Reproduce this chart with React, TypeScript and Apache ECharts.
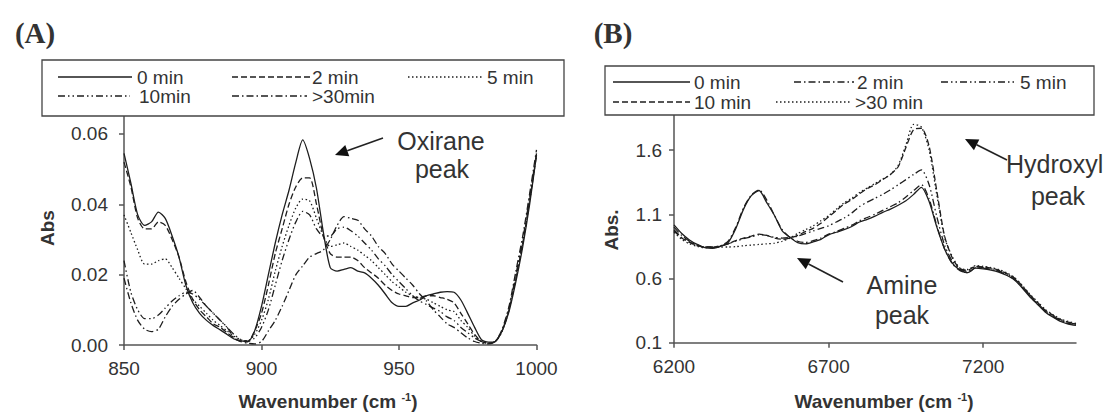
import React, { useEffect, useRef } from "react";
import * as echarts from "echarts";

// ---------- Panel A data (Wavenumber 850-1000 cm-1) ----------
const A_WAVENUMBER = [
  850, 852.5, 855, 857.5, 860, 862.5, 865, 867.5, 870, 872.5,
  875, 877.5, 880, 882.5, 885, 887.5, 890, 892.5, 895, 897.5,
  900, 902.5, 905, 907.5, 910, 912.5, 915, 917.5, 920, 922.5,
  925, 927.5, 930, 932.5, 935, 937.5, 940, 942.5, 945, 947.5,
  950, 952.5, 955, 957.5, 960, 962.5, 965, 967.5, 970, 972.5,
  975, 977.5, 980, 982.5, 985, 987.5, 990, 992.5, 995, 997.5, 1000,
];
const A_NAMES = ["0 min", "2 min", "5 min", "10min", ">30min"];
const A_T0 = [
  0.0545, 0.046, 0.037, 0.034, 0.035, 0.0378, 0.036, 0.031, 0.025, 0.017,
  0.012, 0.009, 0.007, 0.0055, 0.0043, 0.003, 0.0017, 0.0012, 0.001, 0.004,
  0.011, 0.02, 0.029, 0.037, 0.044, 0.052, 0.0583, 0.053, 0.0445, 0.032,
  0.022, 0.021, 0.0215, 0.022, 0.021, 0.0205, 0.019, 0.017, 0.0145, 0.012,
  0.011, 0.011, 0.012, 0.0128, 0.014, 0.0145, 0.015, 0.0152, 0.015, 0.0128,
  0.009, 0.005, 0.0015, 0.0008, 0.001, 0.004, 0.0095, 0.018, 0.028, 0.04, 0.054,
];
const A_T2 = [
  0.052, 0.045, 0.036, 0.033, 0.033, 0.035, 0.034, 0.03, 0.025, 0.018,
  0.013, 0.01, 0.008, 0.006, 0.005, 0.0035, 0.002, 0.001, 0.001, 0.004,
  0.009, 0.017, 0.026, 0.033, 0.04, 0.045, 0.0475, 0.0475, 0.04, 0.031,
  0.026, 0.025, 0.025, 0.025, 0.024, 0.022, 0.0205, 0.019, 0.017, 0.0155,
  0.0145, 0.014, 0.0135, 0.0135, 0.014, 0.014, 0.0135, 0.013, 0.012, 0.009,
  0.006, 0.003, 0.001, 0.0005, 0.001, 0.004, 0.01, 0.019, 0.029, 0.041, 0.054,
];
const A_T5 = [
  0.037, 0.032, 0.027, 0.023, 0.023, 0.024, 0.0245, 0.022, 0.019, 0.016,
  0.013, 0.011, 0.009, 0.007, 0.0055, 0.004, 0.0025, 0.0015, 0.0012, 0.003,
  0.007, 0.013, 0.021, 0.028, 0.034, 0.039, 0.0415, 0.041, 0.036, 0.031,
  0.028, 0.0285, 0.029, 0.028, 0.027, 0.0255, 0.024, 0.022, 0.02, 0.018,
  0.0165, 0.015, 0.014, 0.0134, 0.013, 0.012, 0.011, 0.01, 0.0095, 0.007,
  0.005, 0.0025, 0.001, 0.0005, 0.001, 0.004, 0.01, 0.019, 0.029, 0.041, 0.054,
];
const A_T10 = [
  0.024, 0.015, 0.01, 0.0075, 0.0075, 0.0085, 0.0105, 0.0125, 0.014, 0.015,
  0.0145, 0.013, 0.011, 0.009, 0.007, 0.005, 0.003, 0.0015, 0.001, 0.002,
  0.005, 0.01, 0.017, 0.024, 0.03, 0.035, 0.038, 0.037, 0.033, 0.031,
  0.031, 0.033, 0.0335, 0.0325, 0.031, 0.029, 0.027, 0.0245, 0.0225, 0.02,
  0.018, 0.016, 0.014, 0.0125, 0.0115, 0.0105, 0.0095, 0.008, 0.007, 0.005,
  0.0035, 0.002, 0.001, 0.0005, 0.001, 0.004, 0.0105, 0.02, 0.03, 0.042, 0.0545,
];
const A_T30 = [
  0.019, 0.012, 0.007, 0.0045, 0.0038, 0.0045, 0.008, 0.011, 0.013, 0.0145,
  0.0155, 0.0135, 0.011, 0.009, 0.007, 0.005, 0.002, 0.001, 0.0005, 0.0003,
  0.001, 0.004, 0.007, 0.011, 0.0155, 0.02, 0.0225, 0.025, 0.026, 0.027,
  0.03, 0.034, 0.0365, 0.036, 0.0355, 0.033, 0.031, 0.028, 0.026, 0.023,
  0.021, 0.019, 0.017, 0.0145, 0.0125, 0.01, 0.008, 0.006, 0.005, 0.0035,
  0.002, 0.001, 0.0005, 0.0003, 0.001, 0.0045, 0.011, 0.021, 0.031, 0.043, 0.0555,
];
const A_X_TICKS = [850, 900, 950, 1000];
const A_Y_TICKS = [0, 0.02, 0.04, 0.06];

// ---------- Panel B data (Wavenumber 6200-7500 cm-1) ----------
const B_WAVENUMBER = [
  6200, 6225, 6250, 6275, 6300, 6325, 6350, 6375, 6400, 6425,
  6450, 6475, 6500, 6525, 6550, 6575, 6600, 6625, 6650, 6675,
  6700, 6725, 6750, 6775, 6800, 6825, 6850, 6875, 6900, 6925,
  6950, 6975, 7000, 7025, 7050, 7075, 7100, 7125, 7150, 7175,
  7200, 7225, 7250, 7275, 7300, 7325, 7350, 7375, 7400, 7425,
  7450, 7475, 7500,
];
const B_NAMES = ["0 min", "2 min", "5 min", "10 min", ">30 min"];
const B_T0 = [
  1.017, 0.95, 0.9, 0.865, 0.84, 0.835, 0.85, 0.88, 0.99, 1.14,
  1.245, 1.285, 1.19, 1.09, 0.97, 0.92, 0.88, 0.87, 0.885, 0.905,
  0.94, 0.96, 0.98, 1.005, 1.04, 1.06, 1.085, 1.115, 1.14, 1.17,
  1.205, 1.255, 1.31, 1.2, 1.0, 0.83, 0.72, 0.665, 0.645, 0.68,
  0.675, 0.665, 0.65, 0.625, 0.59, 0.53, 0.46, 0.4, 0.34, 0.3,
  0.265, 0.245, 0.235,
];
const B_T2 = [
  1.0, 0.935, 0.89, 0.86, 0.84, 0.84, 0.855, 0.89, 1.0, 1.15,
  1.25, 1.29, 1.21, 1.09, 0.98, 0.92, 0.89, 0.88, 0.895, 0.915,
  0.945, 0.965, 0.99, 1.015, 1.05, 1.075, 1.1, 1.13, 1.16, 1.19,
  1.235, 1.285, 1.33, 1.22, 1.01, 0.83, 0.715, 0.66, 0.645, 0.685,
  0.68, 0.67, 0.655, 0.63, 0.595, 0.535, 0.465, 0.405, 0.345, 0.305,
  0.27, 0.25, 0.24,
];
const B_T5 = [
  0.98, 0.92, 0.885, 0.86, 0.845, 0.845, 0.855, 0.87, 0.89, 0.91,
  0.925, 0.94, 0.935, 0.92, 0.915, 0.92, 0.93, 0.95, 0.97, 0.99,
  1.01, 1.04, 1.07, 1.11, 1.16, 1.195, 1.225, 1.255, 1.29, 1.33,
  1.37, 1.41, 1.445, 1.33, 1.08, 0.86, 0.735, 0.675, 0.655, 0.69,
  0.685, 0.675, 0.66, 0.635, 0.6, 0.54, 0.47, 0.41, 0.35, 0.31,
  0.275, 0.255, 0.245,
];
const B_T10 = [
  0.97, 0.915, 0.88, 0.855, 0.845, 0.845, 0.85, 0.87, 0.895, 0.915,
  0.93, 0.945, 0.935, 0.915, 0.905, 0.915, 0.935, 0.965, 0.99, 1.03,
  1.08, 1.13, 1.18, 1.215, 1.26, 1.3, 1.33, 1.37, 1.41, 1.47,
  1.62, 1.76, 1.77, 1.63, 1.28, 0.93, 0.76, 0.675, 0.665, 0.695,
  0.69, 0.68, 0.665, 0.64, 0.605, 0.545, 0.475, 0.415, 0.355, 0.315,
  0.28, 0.26, 0.245,
];
const B_T30 = [
  0.96, 0.905, 0.87, 0.85, 0.84, 0.84, 0.845, 0.845, 0.848, 0.855,
  0.86, 0.865, 0.87, 0.875, 0.89, 0.915, 0.95, 0.98, 1.01, 1.05,
  1.09, 1.14, 1.19, 1.225, 1.27, 1.305, 1.34, 1.375, 1.41, 1.48,
  1.64, 1.8, 1.78, 1.6, 1.25, 0.92, 0.77, 0.68, 0.67, 0.7,
  0.695, 0.685, 0.67, 0.645, 0.61, 0.55, 0.48, 0.42, 0.36, 0.32,
  0.285, 0.265, 0.25,
];
const B_X_TICKS = [6200, 6700, 7200];
const B_Y_TICKS = [0.1, 0.6, 1.1, 1.6];

// line dash styles
const SOLID: number[] | null = null;
const DASHED = [6, 3];
const DOTTED = [1.5, 2.5];
const DASH_DOT = [7, 3, 1.5, 3];
const DASH_DOT_DOT = [7, 3, 1.5, 3, 1.5, 3];
const A_DASH = [SOLID, DASHED, DOTTED, DASH_DOT_DOT, DASH_DOT];
const B_DASH = [SOLID, DASH_DOT, DASH_DOT_DOT, DASHED, DOTTED];

const FONT = '"Liberation Sans", Arial, Helvetica, sans-serif';
const LINE_COLOR = "#1e1e1e";
const AXIS_COLOR = "#555";
const TEXT_COLOR = "#333";

function isTick(v: number, ticks: number[]) {
  return ticks.some((t) => Math.abs(t - v) < 1e-6);
}

function App() {
  const ref = useRef<HTMLDivElement>(null);
  useEffect(() => {
    if (!ref.current) return;
    const chart = echarts.init(ref.current, null, { renderer: "svg" });

    const axisLine = { show: true, lineStyle: { color: AXIS_COLOR, width: 1.5 } };
    const axisTick = { show: true, length: 5, lineStyle: { color: AXIS_COLOR, width: 1.5 } };
    const labelBase = { color: TEXT_COLOR, fontSize: 19, fontFamily: FONT };

    const mkSeries = (
      names: string[],
      xs: number[],
      vals: number[][],
      dashes: (number[] | null)[],
      idx: number
    ) =>
      names.map((n, i) => ({
        type: "line",
        name: n,
        xAxisIndex: idx,
        yAxisIndex: idx,
        data: xs.map((x, j) => [x, vals[i][j]]),
        symbol: "none",
        smooth: 0.25,
        lineStyle: { color: LINE_COLOR, width: 1.3, type: dashes[i] ?? "solid" },
        z: 3,
      }));

    // legend graphics
    const legendItems = (
      names: string[],
      dashes: (number[] | null)[],
      lines: number[][], // [x1, x2, y, textX]
      z: number
    ) => {
      const out: any[] = [];
      names.forEach((n, i) => {
        const [x1, x2, y, tx] = lines[i];
        out.push({
          type: "line",
          z,
          shape: { x1, y1: y, x2, y2: y },
          style: { stroke: LINE_COLOR, lineWidth: 1.3, lineDash: dashes[i] ?? null },
        });
        out.push({
          type: "text",
          z,
          x: tx,
          y,
          style: {
            text: n,
            fill: TEXT_COLOR,
            fontSize: 19,
            fontFamily: FONT,
            align: "left",
            verticalAlign: "middle",
          },
        });
      });
      return out;
    };

    const txt = (x: number, y: number, text: string, size: number, opts: any = {}) => ({
      type: "text",
      z: 50,
      x,
      y,
      rotation: opts.rotation || 0,
      style: {
        text,
        fill: TEXT_COLOR,
        fontSize: size,
        fontFamily: opts.fontFamily || FONT,
        fontWeight: opts.bold ? "bold" : "normal",
        align: opts.align || "center",
        verticalAlign: "middle",
        rich: opts.rich,
      },
    });

    const arrow = (sx: number, sy: number, tx: number, ty: number) => {
      const dx = tx - sx;
      const dy = ty - sy;
      const len = Math.hypot(dx, dy);
      const ux = dx / len;
      const uy = dy / len;
      const hl = 13;
      const hw = 6;
      const bx = tx - hl * ux;
      const by = ty - hl * uy;
      return [
        {
          type: "line",
          z: 50,
          shape: { x1: sx, y1: sy, x2: bx, y2: by },
          style: { stroke: "#222", lineWidth: 1.6 },
        },
        {
          type: "polygon",
          z: 50,
          shape: {
            points: [
              [tx, ty],
              [bx - uy * hw, by + ux * hw],
              [bx + uy * hw, by - ux * hw],
            ],
          },
          style: { fill: "#111" },
        },
      ];
    };

    const supRich = {
      s: { fontSize: 11, fontWeight: "bold", fontFamily: FONT, fill: TEXT_COLOR, verticalAlign: "top", padding: [0, 0, 8, 0] },
    };

    const graphic: any[] = [
      // panel labels
      txt(35, 33, "(A)", 29, { bold: true, fontFamily: '"Liberation Serif", "Times New Roman", serif' }),
      txt(613, 33, "(B)", 29, { bold: true, fontFamily: '"Liberation Serif", "Times New Roman", serif' }),
      // legend A
      {
        type: "rect",
        z: 40,
        shape: { x: 42, y: 60, width: 522, height: 56 },
        style: { fill: "#fff", stroke: "#444", lineWidth: 1.3 },
      },
      ...legendItems(
        A_NAMES,
        A_DASH,
        [
          [58, 132, 77, 137],
          [232, 310, 77, 312],
          [408, 483, 77, 487],
          [58, 130, 96, 139],
          [232, 307, 96, 312],
        ],
        45
      ),
      // legend B
      {
        type: "rect",
        z: 40,
        shape: { x: 605, y: 66, width: 489, height: 49 },
        style: { fill: "#fff", stroke: "#444", lineWidth: 1.3 },
      },
      ...legendItems(
        B_NAMES,
        B_DASH,
        [
          [613, 690, 82, 694],
          [794, 854, 82, 857],
          [941, 1017, 82, 1020],
          [613, 690, 102, 694],
          [776, 852, 102, 855],
        ],
        45
      ),
      // axis names
      txt(47, 228, "Abs", 19, { bold: true, rotation: Math.PI / 2 }),
      txt(611, 230, "Abs.", 19, { bold: true, rotation: Math.PI / 2 }),
      txt(328, 401, "Wavenumber (cm {s|-1})", 19, { bold: true, rich: supRich }),
      txt(884, 401, "Wavenumber (cm {s|-1})", 19, { bold: true, rich: supRich }),
      // annotations
      txt(441, 141, "Oxirane", 25),
      txt(442, 169, "peak", 25),
      ...arrow(383, 138, 335, 155),
      txt(1006, 164, "Hydroxyl", 25, { align: "left" }),
      txt(1058, 196, "peak", 25),
      ...arrow(1007, 160, 965, 139),
      txt(902, 285, "Amine", 25),
      txt(902, 315, "peak", 25),
      ...arrow(843, 282, 797, 258),
    ];

    const option: any = {
      animation: false,
      backgroundColor: "#fff",
      grid: [
        { left: 124, top: 116.4, width: 412.5, height: 228.6 },
        { left: 674, top: 115, width: 402, height: 227.7 },
      ],
      xAxis: [
        {
          gridIndex: 0,
          type: "value",
          min: 850,
          max: 1000,
          interval: 50,
          axisLine,
          axisTick: { ...axisTick, customValues: A_X_TICKS },
          axisLabel: {
            ...labelBase,
            margin: 14,
            customValues: A_X_TICKS,
            formatter: (v: number) => (isTick(v, A_X_TICKS) ? String(v) : ""),
          },
          splitLine: { show: false },
        },
        {
          gridIndex: 1,
          type: "value",
          min: 6200,
          max: 7500,
          interval: 500,
          axisLine,
          axisTick: { ...axisTick, customValues: B_X_TICKS },
          axisLabel: {
            ...labelBase,
            margin: 14,
            customValues: B_X_TICKS,
            formatter: (v: number) => (isTick(v, B_X_TICKS) ? String(v) : ""),
          },
          splitLine: { show: false },
        },
      ],
      yAxis: [
        {
          gridIndex: 0,
          type: "value",
          min: 0,
          max: 0.065,
          interval: 0.02,
          axisLine,
          axisTick: { ...axisTick, customValues: A_Y_TICKS },
          axisLabel: {
            ...labelBase,
            margin: 16,
            customValues: A_Y_TICKS,
            formatter: (v: number) => (isTick(v, A_Y_TICKS) ? v.toFixed(2) : ""),
          },
          splitLine: { show: false },
        },
        {
          gridIndex: 1,
          type: "value",
          min: 0.1,
          max: 1.873,
          interval: 0.5,
          axisLine,
          axisTick: { ...axisTick, customValues: B_Y_TICKS },
          axisLabel: {
            ...labelBase,
            margin: 12,
            customValues: B_Y_TICKS,
            formatter: (v: number) => (isTick(v, B_Y_TICKS) ? v.toFixed(1) : ""),
          },
          splitLine: { show: false },
        },
      ],
      series: [
        ...mkSeries(A_NAMES, A_WAVENUMBER, [A_T0, A_T2, A_T5, A_T10, A_T30], A_DASH, 0),
        ...mkSeries(B_NAMES, B_WAVENUMBER, [B_T0, B_T2, B_T5, B_T10, B_T30], B_DASH, 1),
      ],
      graphic,
    };

    chart.setOption(option);
    return () => chart.dispose();
  }, []);

  return (
    <div
      ref={ref}
      style={{ position: "fixed", left: 0, top: 0, width: 1110, height: 412, background: "#fff" }}
    />
  );
}

export default App;
